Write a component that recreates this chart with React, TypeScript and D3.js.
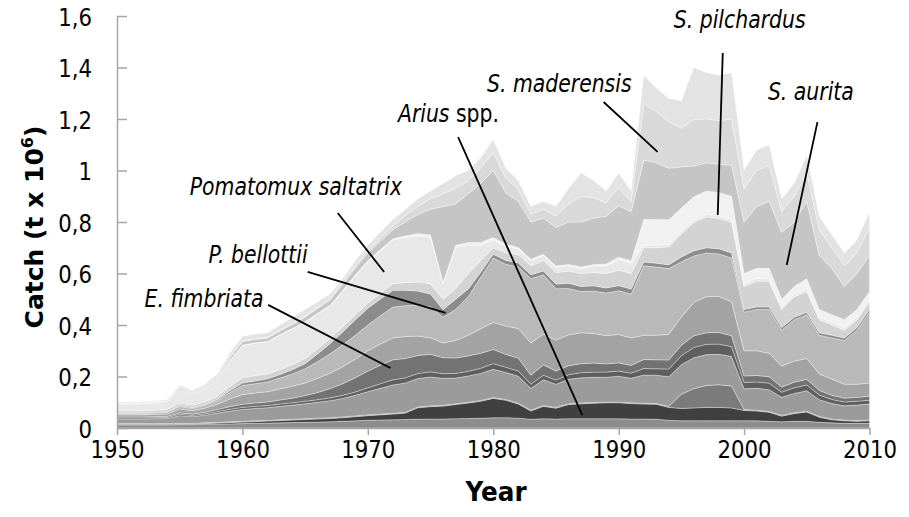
import React, { useEffect, useRef } from "react";
import * as d3 from "d3";

// years 1950..2010, one value per year for every species group (t x 10^6)
const years = d3.range(1950, 2011);

const base = [
  0.012, 0.012, 0.012, 0.012, 0.012, 0.013, 0.013, 0.014, 0.015, 0.016,
  0.017, 0.018, 0.019, 0.02, 0.021, 0.022, 0.023, 0.024, 0.026, 0.028,
  0.03, 0.031, 0.032, 0.033, 0.034, 0.035, 0.035, 0.036, 0.037, 0.038,
  0.04, 0.04, 0.038, 0.034, 0.036, 0.035, 0.036, 0.036, 0.036, 0.036,
  0.036, 0.035, 0.035, 0.034, 0.03, 0.028, 0.028, 0.028, 0.028, 0.028,
  0.028, 0.028, 0.026, 0.024, 0.026, 0.026, 0.022, 0.02, 0.018, 0.018, 0.018,
];
const arius = [
  0.002, 0.002, 0.002, 0.002, 0.002, 0.002, 0.002, 0.003, 0.004, 0.005,
  0.006, 0.007, 0.008, 0.009, 0.01, 0.011, 0.012, 0.013, 0.014, 0.016,
  0.018, 0.02, 0.022, 0.025, 0.045, 0.048, 0.05, 0.055, 0.06, 0.066,
  0.075, 0.068, 0.055, 0.032, 0.048, 0.042, 0.055, 0.058, 0.06, 0.062,
  0.062, 0.06, 0.058, 0.058, 0.05, 0.048, 0.05, 0.052, 0.052, 0.05,
  0.04, 0.038, 0.035, 0.022, 0.03, 0.036, 0.02, 0.012, 0.01, 0.008, 0.01,
];
const sardinella = [
  0.003, 0.003, 0.003, 0.003, 0.003, 0.003, 0.003, 0.003, 0.003, 0.003,
  0.003, 0.003, 0.003, 0.003, 0.003, 0.003, 0.003, 0.003, 0.003, 0.003,
  0.003, 0.003, 0.003, 0.003, 0.003, 0.003, 0.003, 0.003, 0.003, 0.003,
  0.003, 0.003, 0.003, 0.003, 0.003, 0.003, 0.003, 0.003, 0.003, 0.003,
  0.003, 0.003, 0.003, 0.003, 0.004, 0.055, 0.075, 0.085, 0.088, 0.085,
  0.004, 0.003, 0.003, 0.003, 0.003, 0.003, 0.003, 0.003, 0.003, 0.003, 0.003,
];
const mixedLow = [
  0.018, 0.018, 0.018, 0.019, 0.02, 0.03, 0.026, 0.03, 0.036, 0.042,
  0.046, 0.048, 0.049, 0.052, 0.055, 0.058, 0.062, 0.066, 0.072, 0.08,
  0.09, 0.1, 0.11, 0.114, 0.11, 0.112, 0.105, 0.1, 0.102, 0.105,
  0.11, 0.105, 0.105, 0.085, 0.1, 0.09, 0.095, 0.098, 0.098, 0.096,
  0.1, 0.095, 0.11, 0.11, 0.115, 0.115, 0.12, 0.12, 0.118, 0.115,
  0.08, 0.085, 0.085, 0.07, 0.075, 0.08, 0.065, 0.06, 0.055, 0.06, 0.062,
];
const darkLow = [
  0.004, 0.004, 0.004, 0.004, 0.004, 0.005, 0.005, 0.005, 0.006, 0.007,
  0.008, 0.008, 0.008, 0.009, 0.009, 0.01, 0.01, 0.011, 0.012, 0.013,
  0.015, 0.018, 0.02, 0.02, 0.02, 0.02, 0.018, 0.018, 0.018, 0.02,
  0.022, 0.02, 0.02, 0.016, 0.018, 0.016, 0.018, 0.02, 0.02, 0.02,
  0.02, 0.02, 0.025, 0.025, 0.03, 0.035, 0.04, 0.04, 0.04, 0.038,
  0.025, 0.025, 0.025, 0.02, 0.022, 0.022, 0.018, 0.016, 0.015, 0.015, 0.015,
];
const fimbriata = [
  0.004, 0.004, 0.004, 0.004, 0.004, 0.006, 0.005, 0.006, 0.008, 0.01,
  0.012, 0.013, 0.014, 0.016, 0.018, 0.022, 0.028, 0.036, 0.045, 0.055,
  0.065, 0.072, 0.078, 0.075, 0.07, 0.068, 0.062, 0.06, 0.06, 0.058,
  0.055, 0.05, 0.05, 0.035, 0.04, 0.035, 0.035, 0.035, 0.035, 0.032,
  0.032, 0.03, 0.035, 0.035, 0.035, 0.04, 0.045, 0.045, 0.045, 0.042,
  0.025, 0.025, 0.025, 0.02, 0.022, 0.022, 0.018, 0.016, 0.015, 0.015, 0.015,
];
const midGray = [
  0.008, 0.008, 0.008, 0.009, 0.009, 0.015, 0.013, 0.016, 0.02, 0.03,
  0.038, 0.039, 0.04, 0.043, 0.046, 0.049, 0.055, 0.06, 0.066, 0.072,
  0.079, 0.082, 0.085, 0.085, 0.075, 0.064, 0.057, 0.068, 0.08, 0.095,
  0.105, 0.11, 0.115, 0.125, 0.12, 0.12, 0.12, 0.12, 0.115, 0.11,
  0.11, 0.107, 0.094, 0.095, 0.1, 0.11, 0.13, 0.14, 0.14, 0.132,
  0.098, 0.096, 0.091, 0.081, 0.082, 0.081, 0.064, 0.063, 0.054, 0.051, 0.052,
];
const bellottii = [
  0.006, 0.006, 0.006, 0.006, 0.007, 0.01, 0.009, 0.011, 0.015, 0.025,
  0.035, 0.036, 0.038, 0.042, 0.048, 0.055, 0.065, 0.075, 0.085, 0.093,
  0.1, 0.11, 0.12, 0.12, 0.12, 0.12, 0.1, 0.12, 0.15, 0.2,
  0.25, 0.24, 0.24, 0.25, 0.23, 0.2, 0.18, 0.16, 0.165, 0.165,
  0.17, 0.17, 0.27, 0.265, 0.255, 0.215, 0.18, 0.17, 0.165, 0.17,
  0.15, 0.16, 0.17, 0.14, 0.16, 0.17, 0.15, 0.16, 0.17, 0.21, 0.275,
];
const darkMid = [
  0.002, 0.002, 0.002, 0.002, 0.002, 0.003, 0.003, 0.003, 0.004, 0.007,
  0.01, 0.011, 0.012, 0.014, 0.017, 0.02, 0.03, 0.04, 0.05, 0.06,
  0.065, 0.065, 0.065, 0.06, 0.055, 0.05, 0.03, 0.04, 0.03, 0.02,
  0.015, 0.015, 0.015, 0.015, 0.015, 0.018, 0.02, 0.02, 0.02, 0.02,
  0.02, 0.02, 0.015, 0.015, 0.015, 0.018, 0.02, 0.02, 0.02, 0.02,
  0.01, 0.01, 0.01, 0.01, 0.01, 0.01, 0.01, 0.01, 0.01, 0.01, 0.01,
];
const thinMix = [
  0.008, 0.008, 0.008, 0.008, 0.009, 0.01, 0.009, 0.01, 0.012, 0.016,
  0.02, 0.02, 0.019, 0.019, 0.02, 0.02, 0.02, 0.02, 0.02, 0.02,
  0.02, 0.022, 0.025, 0.03, 0.035, 0.04, 0.04, 0.04, 0.06, 0.045,
  0.025, 0.03, 0.032, 0.035, 0.04, 0.045, 0.048, 0.05, 0.052, 0.055,
  0.06, 0.06, 0.055, 0.06, 0.07, 0.09, 0.11, 0.12, 0.118, 0.12,
  0.09, 0.1, 0.1, 0.07, 0.08, 0.08, 0.05, 0.04, 0.03, 0.03, 0.03,
];
const pomatomus = [
  0.027, 0.027, 0.028, 0.029, 0.031, 0.052, 0.043, 0.052, 0.066, 0.1,
  0.125, 0.126, 0.124, 0.133, 0.137, 0.14, 0.135, 0.125, 0.138, 0.15,
  0.16, 0.165, 0.17, 0.175, 0.18, 0.18, 0.06, 0.16, 0.11, 0.06,
  0.03, 0.025, 0.022, 0.02, 0.02, 0.02, 0.02, 0.02, 0.025, 0.03,
  0.04, 0.04, 0.01, 0.01, 0.01, 0.01, 0.01, 0.01, 0.01, 0.01,
  0.01, 0.01, 0.01, 0.01, 0.01, 0.01, 0.01, 0.01, 0.01, 0.01, 0.01,
];
const pilchardus = [
  0, 0, 0, 0, 0, 0, 0, 0.001, 0.001, 0.002,
  0.002, 0.002, 0.002, 0.003, 0.003, 0.003, 0.003, 0.004, 0.004, 0.005,
  0.005, 0.005, 0.005, 0.006, 0.008, 0.01, 0.005, 0.01, 0.01, 0.01,
  0.01, 0.008, 0.006, 0.005, 0.005, 0.005, 0.005, 0.005, 0.006, 0.008,
  0.01, 0.01, 0.1, 0.1, 0.095, 0.09, 0.09, 0.09, 0.09, 0.09,
  0.04, 0.04, 0.04, 0.03, 0.03, 0.04, 0.03, 0.03, 0.03, 0.03, 0.03,
];
const aurita = [
  0.002, 0.002, 0.002, 0.002, 0.002, 0.005, 0.004, 0.005, 0.006, 0.01,
  0.013, 0.013, 0.013, 0.014, 0.016, 0.017, 0.018, 0.02, 0.023, 0.026,
  0.03, 0.032, 0.035, 0.055, 0.075, 0.1, 0.295, 0.16, 0.19, 0.23,
  0.26, 0.2, 0.18, 0.145, 0.14, 0.15, 0.165, 0.175, 0.18, 0.185,
  0.2, 0.19, 0.23, 0.22, 0.2, 0.16, 0.12, 0.11, 0.11, 0.12,
  0.2, 0.24, 0.26, 0.26, 0.25, 0.3, 0.21, 0.18, 0.13, 0.14, 0.14,
];
const maderensis = [
  0, 0, 0.001, 0.001, 0.001, 0.002, 0.002, 0.002, 0.002, 0.002,
  0.003, 0.003, 0.003, 0.004, 0.004, 0.005, 0.005, 0.006, 0.008, 0.009,
  0.01, 0.012, 0.015, 0.025, 0.032, 0.04, 0.05, 0.06, 0.05, 0.06,
  0.07, 0.056, 0.045, 0.03, 0.035, 0.045, 0.07, 0.1, 0.08, 0.053,
  0.07, 0.04, 0.22, 0.2, 0.18, 0.15, 0.18, 0.17, 0.17, 0.18,
  0.13, 0.14, 0.14, 0.08, 0.1, 0.11, 0.1, 0.08, 0.08, 0.08, 0.11,
];
const others = [
  0.004, 0.004, 0.004, 0.004, 0.004, 0.009, 0.008, 0.009, 0.012, 0.015,
  0.017, 0.018, 0.018, 0.019, 0.023, 0.025, 0.021, 0.017, 0.014, 0.02,
  0.02, 0.023, 0.025, 0.024, 0.028, 0.03, 0.04, 0.05, 0.04, 0.04,
  0.05, 0.04, 0.034, 0.03, 0.03, 0.036, 0.06, 0.09, 0.065, 0.045,
  0.057, 0.04, 0.11, 0.09, 0.091, 0.106, 0.202, 0.18, 0.176, 0.18,
  0.07, 0.08, 0.08, 0.05, 0.05, 0.07, 0.05, 0.05, 0.05, 0.05, 0.06,
];

const yTicks = [0, 0.2, 0.4, 0.6, 0.8, 1, 1.2, 1.4, 1.6];
const xTicks = [1950, 1960, 1970, 1980, 1990, 2000, 2010];

// stacking order, bottom to top
const layers = [
  { key: "base", values: base, color: "#8d8d8d" },
  { key: "arius", values: arius, color: "#404040" },
  { key: "sardinella", values: sardinella, color: "#7b7b7b" },
  { key: "mixedLow", values: mixedLow, color: "#9b9b9b" },
  { key: "darkLow", values: darkLow, color: "#5f5f5f" },
  { key: "fimbriata", values: fimbriata, color: "#737373" },
  { key: "midGray", values: midGray, color: "#a3a3a3" },
  { key: "bellottii", values: bellottii, color: "#b9b9b9" },
  { key: "darkMid", values: darkMid, color: "#8c8c8c" },
  { key: "thinMix", values: thinMix, color: "#d3d3d3" },
  { key: "pomatomus", values: pomatomus, color: "#e8e8e8" },
  { key: "pilchardus", values: pilchardus, color: "#f1f1f1" },
  { key: "aurita", values: aurita, color: "#c5c5c5" },
  { key: "maderensis", values: maderensis, color: "#d9d9d9" },
  { key: "others", values: others, color: "#e3e3e3" },
];

// labels: text anchor and pointer ends in data units (year, catch)
const notes = [
  { text: "Pomatomux saltatrix", plain: "", at: [1955.8, 0.905], from: [1967.6, 0.835], to: [1971.3, 0.606] },
  { text: "P. bellottii", plain: "", at: [1957.3, 0.641], from: [1965.2, 0.606], to: [1976.2, 0.447] },
  { text: "E. fimbriata", plain: "", at: [1952.2, 0.47], from: [1962.05, 0.478], to: [1971.8, 0.233] },
  { text: "Arius", plain: " spp.", at: [1972.4, 1.188], from: [1977.2, 1.13], to: [1987.1, 0.05] },
  { text: "S. maderensis", plain: "", at: [1979.5, 1.305], from: [1988.8, 1.266], to: [1993.1, 1.072] },
  { text: "S. pilchardus", plain: "", at: [1994.4, 1.553], from: [1998.3, 1.456], to: [1997.9, 0.827] },
  { text: "S. aurita", plain: "", at: [2001.9, 1.274], from: [2005.85, 1.188], to: [2003.4, 0.633] },
];

const FONT = "DejaVu Sans, Verdana, sans-serif";
const SX = 0.85;

export default function App() {
  const ref = useRef<SVGSVGElement>(null);

  useEffect(() => {
    const svg = d3.select(ref.current);
    svg.selectAll("*").remove();

    const x = d3.scaleLinear().domain([1950, 2010]).range([117, 869.5]);
    const y = d3.scaleLinear().domain([0, 1.6]).range([428, 16]);

    const rows = years.map((yr, i) => {
      const r: any = { year: yr };
      layers.forEach((l) => (r[l.key] = l.values[i]));
      return r;
    });
    const series = d3.stack<any>().keys(layers.map((l) => l.key))(rows);

    const area = d3
      .area<any>()
      .x((d) => x(d.data.year))
      .y0((d) => y(d[0]))
      .y1((d) => y(d[1]));

    svg
      .append("g")
      .selectAll("path")
      .data(series)
      .join("path")
      .attr("d", area)
      .attr("fill", (d, i) => layers[i].color)
      .attr("stroke", "#ffffff")
      .attr("stroke-opacity", 0.55)
      .attr("stroke-width", 0.6);

    // y axis
    const fmt = (d: any) => String(d).replace(".", ",");
    const yAxis = svg
      .append("g")
      .attr("transform", "translate(117,0)")
      .call(
        d3
          .axisLeft(y)
          .tickValues(yTicks)
          .tickSize(-10)
          .tickSizeOuter(0)
          .tickFormat(fmt)
      );
    yAxis.select(".domain").attr("stroke", "#a6a6a6").attr("stroke-width", 1.5);
    yAxis.selectAll(".tick line").attr("stroke", "#a6a6a6").attr("stroke-width", 1.5);
    yAxis
      .selectAll(".tick text")
      .attr("x", null)
      .attr("dy", null)
      .attr("transform", `translate(-25,9) scale(${SX},1)`)
      .attr("text-anchor", "end")
      .attr("fill", "#000")
      .attr("font-family", FONT)
      .attr("font-size", 25);

    // x axis
    const xAxis = svg
      .append("g")
      .attr("transform", "translate(0,428)")
      .call(
        d3
          .axisBottom(x)
          .tickValues(xTicks)
          .tickSize(7)
          .tickSizeOuter(0)
          .tickFormat(d3.format("d"))
      );
    xAxis.select(".domain").attr("stroke", "#a6a6a6").attr("stroke-width", 1.5);
    xAxis.selectAll(".tick line").attr("stroke", "#a6a6a6").attr("stroke-width", 1.5);
    xAxis
      .selectAll(".tick text")
      .attr("y", null)
      .attr("dy", null)
      .attr("transform", `translate(0,30) scale(${SX},1)`)
      .attr("fill", "#000")
      .attr("font-family", FONT)
      .attr("font-size", 25);

    // axis titles
    const yt = svg
      .append("text")
      .attr("transform", "translate(43,227) rotate(-90)")
      .attr("text-anchor", "middle")
      .attr("font-family", FONT)
      .attr("font-weight", "bold")
      .attr("font-size", 25);
    yt.append("tspan").text("Catch (t x 10");
    yt.append("tspan").attr("font-size", 16).attr("dy", -10).text("6");
    yt.append("tspan").attr("dy", 10).text(")");

    svg
      .append("text")
      .attr("transform", `translate(496,501) scale(0.95,1)`)
      .attr("text-anchor", "middle")
      .attr("font-family", FONT)
      .attr("font-weight", "bold")
      .attr("font-size", 26)
      .text("Year");

    // species labels and pointers
    const g = svg.append("g");
    notes.forEach((n) => {
      g.append("line")
        .attr("x1", x(n.from[0]))
        .attr("y1", y(n.from[1]))
        .attr("x2", x(n.to[0]))
        .attr("y2", y(n.to[1]))
        .attr("stroke", "#000")
        .attr("stroke-width", 1.8);
      const t = g
        .append("text")
        .attr("transform", `translate(${x(n.at[0])},${y(n.at[1])}) scale(${SX},1)`)
        .attr("font-family", FONT)
        .attr("font-size", 24);
      t.append("tspan").attr("font-style", "italic").text(n.text);
      if (n.plain) t.append("tspan").text(n.plain);
    });
  }, []);

  return (
    <svg
      ref={ref}
      width={909}
      height={517}
      style={{ position: "absolute", left: 0, top: 0, background: "#fff" }}
    />
  );
}
